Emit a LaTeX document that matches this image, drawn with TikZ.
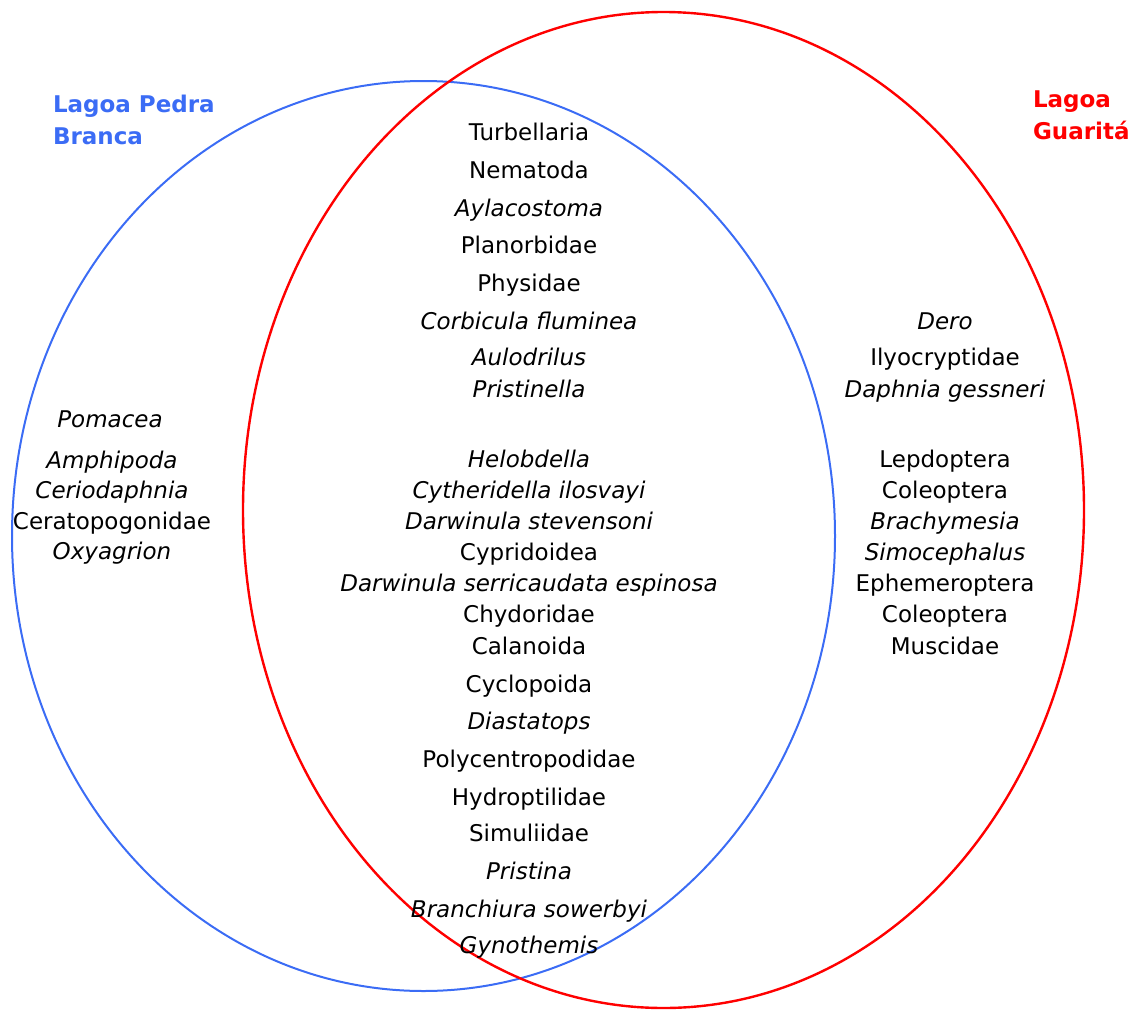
\documentclass[tikz,border=0pt]{standalone}
\usepackage{fontspec}
\setmainfont{DejaVu Sans}

\definecolor{pbblue}{RGB}{59,108,245}
\definecolor{gured}{RGB}{255,0,0}
\definecolor{sptext}{RGB}{0,0,0}

\begin{document}
\begin{tikzpicture}[
  x=1pt,
  y=-1pt,
  every node/.style={inner sep=0pt, outer sep=0pt, anchor=base},
  taxon/.style={font=\fontsize{23}{24}\selectfont, text=sptext, align=center},
  genus/.style={taxon, font=\fontsize{23}{24}\selectfont\itshape},
  lakename/.style={font=\bfseries\fontsize{23}{32}\selectfont, align=left, anchor=north west},
  pbring/.style={draw=pbblue, line width=2pt},
  guring/.style={draw=gured, line width=2.4pt}
]

  \path[use as bounding box] (0,0) rectangle (1140,1012);

  % The two lakes.
  \draw[pbring] (423.5,536) ellipse [x radius=411.5, y radius=455];
  \draw[guring] (663.5,510) ellipse [x radius=420.5, y radius=498];

  \node[lakename, text=pbblue] (pbtitle) at (53,95) {Lagoa Pedra\\Branca};
  \node[lakename, text=gured] (gutitle) at (1033,91) {Lagoa\\Guaritá};

  % Taxa found only in Lagoa Pedra Branca.
  \node[genus] (pomacea) at (110,427) {Pomacea};
  \node[genus] (amphipoda) at (112,468) {Amphipoda};
  \node[genus] (ceriodaphnia) at (112,498) {Ceriodaphnia};
  \node[taxon] (ceratopog) at (112,529) {Ceratopogonidae};
  \node[genus] (oxyagrion) at (112,559) {Oxyagrion};

  % Taxa shared by both lakes.
  \node[taxon] (turbellaria) at (529,140) {Turbellaria};
  \node[taxon] (nematoda) at (529,178) {Nematoda};
  \node[genus] (aylacostoma) at (529,216) {Aylacostoma};
  \node[taxon] (planorbidae) at (529,253) {Planorbidae};
  \node[taxon] (physidae) at (529,291) {Physidae};
  \node[genus] (corbicula) at (529,329) {Corbicula fluminea};
  \node[genus] (aulodrilus) at (529,365) {Aulodrilus};
  \node[genus] (pristinella) at (529,397) {Pristinella};
  \node[genus] (helobdella) at (529,467) {Helobdella};
  \node[genus] (cytheridella) at (529,498) {Cytheridella ilosvayi};
  \node[genus] (dstevensoni) at (529,529) {Darwinula stevensoni};
  \node[taxon] (cypridoidea) at (529,560) {Cypridoidea};
  \node[genus] (dserricaud) at (529,591) {Darwinula serricaudata espinosa};
  \node[taxon] (chydoridae) at (529,622) {Chydoridae};
  \node[taxon] (calanoida) at (529,654) {Calanoida};
  \node[taxon] (cyclopoida) at (529,692) {Cyclopoida};
  \node[genus] (diastatops) at (529,729) {Diastatops};
  \node[taxon] (polycentro) at (529,767) {Polycentropodidae};
  \node[taxon] (hydroptil) at (529,805) {Hydroptilidae};
  \node[taxon] (simuliidae) at (529,841) {Simuliidae};
  \node[genus] (pristina) at (529,879) {Pristina};
  \node[genus] (branchiura) at (529,917) {Branchiura sowerbyi};
  \node[genus] (gynothemis) at (529,953) {Gynothemis};

  % Taxa found only in Lagoa Guarita.
  \node[genus] (dero) at (945,329) {Dero};
  \node[taxon] (ilyocrypt) at (945,365) {Ilyocryptidae};
  \node[genus] (dgessneri) at (945,397) {Daphnia gessneri};
  \node[taxon] (lepdoptera) at (945,467) {Lepdoptera};
  \node[taxon] (coleoptA) at (945,498) {Coleoptera};
  \node[genus] (brachymesia) at (945,529) {Brachymesia};
  \node[genus] (simoceph) at (945,560) {Simocephalus};
  \node[taxon] (ephemero) at (945,591) {Ephemeroptera};
  \node[taxon] (coleoptB) at (945,622) {Coleoptera};
  \node[taxon] (muscidae) at (945,654) {Muscidae};

\end{tikzpicture}
\end{document}
